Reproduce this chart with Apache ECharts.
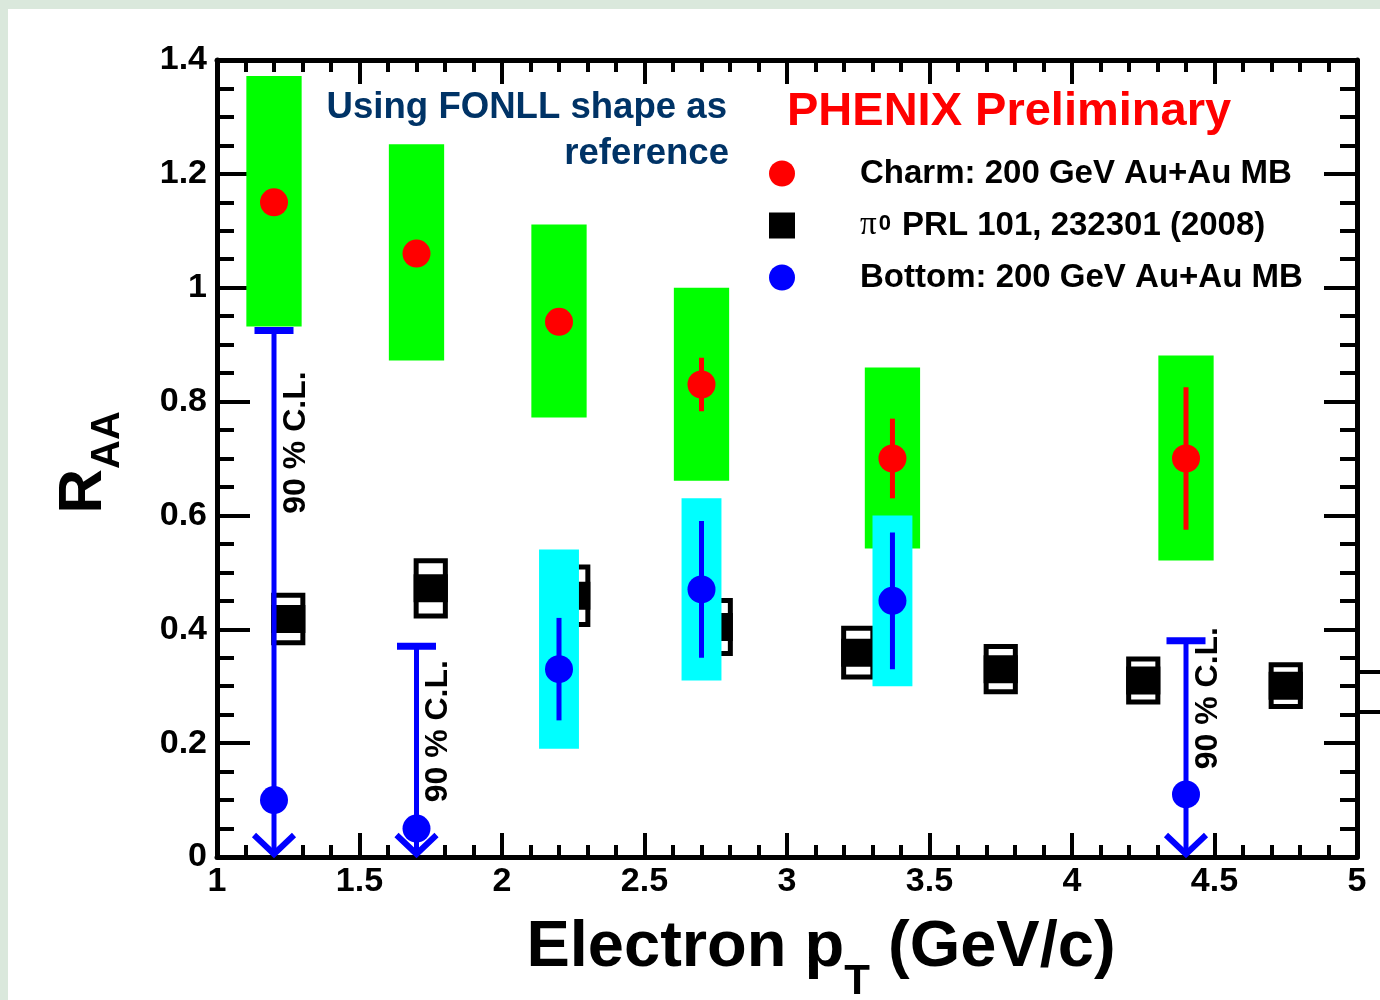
<!DOCTYPE html>
<html>
<head>
<meta charset="utf-8">
<script src="https://cdn.jsdelivr.net/npm/echarts@6/dist/echarts.min.js"></script>
<style>
  html, body { margin: 0; padding: 0; background: #dae8dc; }
  #chart { position: absolute; left: 8px; top: 9px; width: 1372px; height: 991px; background: #ffffff; }
</style>
</head>
<body>
<div id="chart"></div>
<script>
const FONT = '"Liberation Sans", Arial, Helvetica, sans-serif';

// Heavy-flavour electron R_AA, charm component
const charmPt      = [1.2, 1.7, 2.2, 2.7, 3.37, 4.4];
const charmRaa     = [1.15, 1.06, 0.94, 0.83, 0.70, 0.70];
const charmStat    = [0.02, 0.02, 0.02, 0.047, 0.07, 0.125];
const charmSysLow  = [0.932, 0.872, 0.772, 0.661, 0.542, 0.521];
const charmSysHigh = [1.372, 1.252, 1.111, 1.000, 0.860, 0.881];

// Bottom component (first two and last point are 90% C.L. upper limits)
const bottomPt        = [1.2, 1.7, 2.2, 2.7, 3.37, 4.4];
const bottomRaa       = [0.10, 0.05, 0.33, 0.47, 0.45, 0.11];
const bottomStatLow   = [null, null, 0.24, 0.35, 0.33, null];
const bottomStatHigh  = [null, null, 0.42, 0.59, 0.57, null];
const bottomSysLow    = [null, null, 0.19, 0.31, 0.30, null];
const bottomSysHigh   = [null, null, 0.54, 0.63, 0.60, null];
const bottomUpperLim  = [0.925, 0.37, null, null, null, 0.38];

// pi0 R_AA, PRL 101, 232301 (2008)
const pi0Pt  = [1.25, 1.75, 2.25, 2.75, 3.25, 3.75, 4.25, 4.75];
const pi0Raa = [0.418, 0.472, 0.459, 0.404, 0.359, 0.330, 0.310, 0.301];
const pi0Sys = [0.046, 0.053, 0.055, 0.051, 0.047, 0.044, 0.042, 0.041];

// axis ranges / tick steps
const xRange = { min: 1, max: 5, step: 0.5 };
const yRange = { min: 0, max: 1.4, step: 0.2 };

const charmName  = 'Charm: 200 GeV Au+Au MB';
const pi0Name    = 'π0 PRL 101, 232301 (2008)';
const bottomName = 'Bottom: 200 GeV Au+Au MB';
const clText = '90 % C.L.';

// anchor points (pT, R_AA) for the rotated C.L. notes next to each limit arrow
const clNotes = [[1.2, 0.728], [1.7, 0.221], [4.4, 0.279]];

const chart = echarts.init(document.getElementById('chart'), null, { renderer: 'canvas' });

function tickAxis(extra) {
  return Object.assign({
    type: 'value',
    axisLine: { show: true, onZero: false, lineStyle: { color: '#000', width: 5 } },
    splitLine: { show: false }
  }, extra);
}

const xTickStyle = {
  axisTick: { show: true, inside: true, length: 24, lineStyle: { color: '#000', width: 4 } },
  minorTick: { show: true, splitNumber: 5, length: 12, lineStyle: { color: '#000', width: 4 } }
};
const yTickStyle = {
  axisTick: { show: true, inside: true, length: 33, lineStyle: { color: '#000', width: 4 } },
  minorTick: { show: true, splitNumber: 4, length: 17, lineStyle: { color: '#000', width: 4 } }
};
const tickLabel = { fontFamily: FONT, fontWeight: 'bold', fontSize: 34, color: '#000' };

const option = {
  animation: false,
  grid: { left: 209, right: 23, top: 51, bottom: 143, containLabel: false, outerBoundsMode: 'none' },
  legend: {
    orient: 'vertical',
    left: 761, top: 148,
    padding: 0,
    itemWidth: 26, itemHeight: 26, itemGap: 19,
    selectedMode: false,
    data: [
      { name: charmName, icon: 'circle' },
      { name: pi0Name, icon: 'rect' },
      { name: bottomName, icon: 'circle' }
    ],
    formatter: function (n) {
      if (n === pi0Name) return '{pi|π}{sup|0}{t| PRL 101, 232301 (2008)}';
      return '{t|' + n + '}';
    },
    textStyle: {
      color: '#000', fontFamily: FONT, fontWeight: 'bold', fontSize: 33, lineHeight: 26,
      padding: [0, 0, 0, 60],
      rich: {
        t: { color: '#000', fontFamily: FONT, fontWeight: 'bold', fontSize: 33, lineHeight: 26 },
        pi: { color: '#000', fontFamily: '"Liberation Serif", "DejaVu Serif", serif', fontWeight: 'normal', fontSize: 33, lineHeight: 26 },
        sup: { color: '#000', fontFamily: FONT, fontWeight: 'bold', fontSize: 22, lineHeight: 12, verticalAlign: 'top', padding: [0, 2, 0, 2] }
      }
    }
  },
  xAxis: [
    tickAxis(Object.assign({
      position: 'bottom', min: xRange.min, max: xRange.max, interval: xRange.step,
      axisLabel: Object.assign({ margin: 8, showMinLabel: true, showMaxLabel: true }, tickLabel),
      name: '{a|Electron p}{s|T}{a| (GeV/c)}',
      nameLocation: 'middle', nameGap: 59,
      nameTextStyle: {
        padding: [0, 0, 0, 68],
        rich: {
          a: { fontFamily: FONT, fontWeight: 'bold', fontSize: 65, lineHeight: 63, color: '#000', verticalAlign: 'top' },
          s: { fontFamily: FONT, fontWeight: 'bold', fontSize: 42, lineHeight: 42, color: '#000', verticalAlign: 'top', padding: [45, 0, 0, 0] }
        }
      }
    }, xTickStyle)),
    tickAxis(Object.assign({
      position: 'top', min: xRange.min, max: xRange.max, interval: xRange.step,
      axisLabel: { show: false }
    }, xTickStyle))
  ],
  yAxis: [
    tickAxis(Object.assign({
      position: 'left', min: yRange.min, max: yRange.max, interval: yRange.step,
      axisLabel: Object.assign({ margin: 10, showMinLabel: true, showMaxLabel: true }, tickLabel),
      name: '{r|R}{s|AA}',
      nameLocation: 'middle', nameRotate: 90, nameGap: 102,
      nameTextStyle: {
        padding: [0, 8, 0, 0],
        rich: {
          r: { fontFamily: FONT, fontWeight: 'bold', fontSize: 62, lineHeight: 62, color: '#000', verticalAlign: 'top' },
          s: { fontFamily: FONT, fontWeight: 'bold', fontSize: 40, lineHeight: 40, color: '#000', verticalAlign: 'top', padding: [35, 0, 0, 0] }
        }
      }
    }, yTickStyle)),
    tickAxis(Object.assign({
      position: 'right', min: yRange.min, max: yRange.max, interval: yRange.step,
      axisLabel: { show: false }
    }, yTickStyle))
  ],
  graphic: [
    { type: 'text', x: 719, y: 99, z: 10,
      style: { text: 'Using FONLL shape as', font: 'bold 36.6px ' + FONT, fill: '#003366', align: 'right', verticalAlign: 'middle' } },
    { type: 'text', x: 721, y: 145, z: 10,
      style: { text: 'reference', font: 'bold 36.6px ' + FONT, fill: '#003366', align: 'right', verticalAlign: 'middle' } },
    { type: 'text', x: 779, y: 103, z: 10,
      style: { text: 'PHENIX Preliminary', font: 'bold 47px ' + FONT, fill: '#ff0000', align: 'left', verticalAlign: 'middle' } },
    { type: 'line', shape: { x1: 1351, y1: 663, x2: 1372, y2: 663 }, style: { stroke: '#000', lineWidth: 4 } },
    { type: 'line', shape: { x1: 1351, y1: 703, x2: 1372, y2: 703 }, style: { stroke: '#000', lineWidth: 4 } }
  ],
  series: [
    // pi0 systematic boxes with the square marker across their centre
    {
      name: pi0Name, type: 'custom', z: 1,
      itemStyle: { color: '#000' },
      data: pi0Pt.map((x, i) => [x, pi0Raa[i], pi0Sys[i]]),
      renderItem: function (params, api) {
        const x = api.value(0), y = api.value(1), s = api.value(2);
        const tl = api.coord([x - 0.06, y + s]);
        const br = api.coord([x + 0.06, y - s]);
        const c = api.coord([x, y]);
        const w = br[0] - tl[0], h = br[1] - tl[1];
        const b = 5, mh = 28;
        return { type: 'group', children: [
          { type: 'rect', shape: { x: tl[0], y: tl[1], width: w, height: h }, style: { fill: '#000' } },
          { type: 'rect', shape: { x: tl[0] + b, y: tl[1] + b, width: w - 2 * b, height: h - 2 * b }, style: { fill: '#fff' } },
          { type: 'rect', shape: { x: tl[0], y: c[1] - mh / 2, width: w, height: mh }, style: { fill: '#000' } }
        ] };
      }
    },
    // charm systematic boxes and statistical bars
    {
      name: 'charm-errors', type: 'custom', z: 2,
      data: charmPt.map((x, i) => [x, charmRaa[i], charmStat[i], charmSysLow[i], charmSysHigh[i]]),
      renderItem: function (params, api) {
        const x = api.value(0), y = api.value(1), st = api.value(2);
        const tl = api.coord([x - 0.097, api.value(4)]);
        const br = api.coord([x + 0.097, api.value(3)]);
        const hi = api.coord([x, y + st]);
        const lo = api.coord([x, y - st]);
        return { type: 'group', children: [
          { type: 'rect', shape: { x: tl[0], y: tl[1], width: br[0] - tl[0], height: br[1] - tl[1] }, style: { fill: '#00ff00' } },
          { type: 'line', shape: { x1: hi[0], y1: hi[1], x2: lo[0], y2: lo[1] }, style: { stroke: '#ff0000', lineWidth: 5 } }
        ] };
      }
    },
    // bottom: systematic boxes, statistical bars, or upper-limit arrows
    {
      name: 'bottom-errors', type: 'custom', z: 3,
      data: bottomPt.map((x, i) => [x, bottomRaa[i],
        bottomStatLow[i] ?? NaN, bottomStatHigh[i] ?? NaN,
        bottomSysLow[i] ?? NaN, bottomSysHigh[i] ?? NaN,
        bottomUpperLim[i] ?? NaN]),
      renderItem: function (params, api) {
        const x = api.value(0);
        const lim = api.value(6);
        const children = [];
        if (!isNaN(lim)) {
          const top = api.coord([x, lim]);
          const base = api.coord([x, 0]);
          children.push(
            { type: 'line', shape: { x1: top[0], y1: top[1], x2: base[0], y2: base[1] - 2 }, style: { stroke: '#0000ff', lineWidth: 5 } },
            { type: 'line', shape: { x1: top[0] - 19.5, y1: top[1], x2: top[0] + 19.5, y2: top[1] }, style: { stroke: '#0000ff', lineWidth: 7 } },
            { type: 'polyline', shape: { points: [[base[0] - 20, base[1] - 22], [base[0], base[1] - 3], [base[0] + 20, base[1] - 22]] }, style: { stroke: '#0000ff', lineWidth: 6, fill: null } }
          );
        } else {
          const tl = api.coord([x - 0.07, api.value(5)]);
          const br = api.coord([x + 0.07, api.value(4)]);
          const hi = api.coord([x, api.value(3)]);
          const lo = api.coord([x, api.value(2)]);
          children.push(
            { type: 'rect', shape: { x: tl[0], y: tl[1], width: br[0] - tl[0], height: br[1] - tl[1] }, style: { fill: '#00ffff' } },
            { type: 'line', shape: { x1: hi[0], y1: hi[1], x2: lo[0], y2: lo[1] }, style: { stroke: '#0000ff', lineWidth: 5 } }
          );
        }
        return { type: 'group', children: children };
      }
    },
    // rotated confidence-level notes beside the limit arrows
    {
      name: 'cl-notes', type: 'custom', z: 4,
      data: clNotes,
      renderItem: function (params, api) {
        const p = api.coord([api.value(0), api.value(1)]);
        return { type: 'text', x: p[0] + 22, y: p[1], rotation: Math.PI / 2,
          style: { text: clText, font: 'bold 32px ' + FONT, fill: '#000', align: 'center', verticalAlign: 'middle' } };
      }
    },
    {
      name: charmName, type: 'scatter', z: 5,
      symbol: 'circle', symbolSize: 28,
      itemStyle: { color: '#ff0000', opacity: 1 },
      data: charmPt.map((x, i) => [x, charmRaa[i]])
    },
    {
      name: bottomName, type: 'scatter', z: 5,
      symbol: 'circle', symbolSize: 28,
      itemStyle: { color: '#0000ff', opacity: 1 },
      data: bottomPt.map((x, i) => [x, bottomRaa[i]])
    }
  ]
};

chart.setOption(option);
</script>
</body>
</html>
